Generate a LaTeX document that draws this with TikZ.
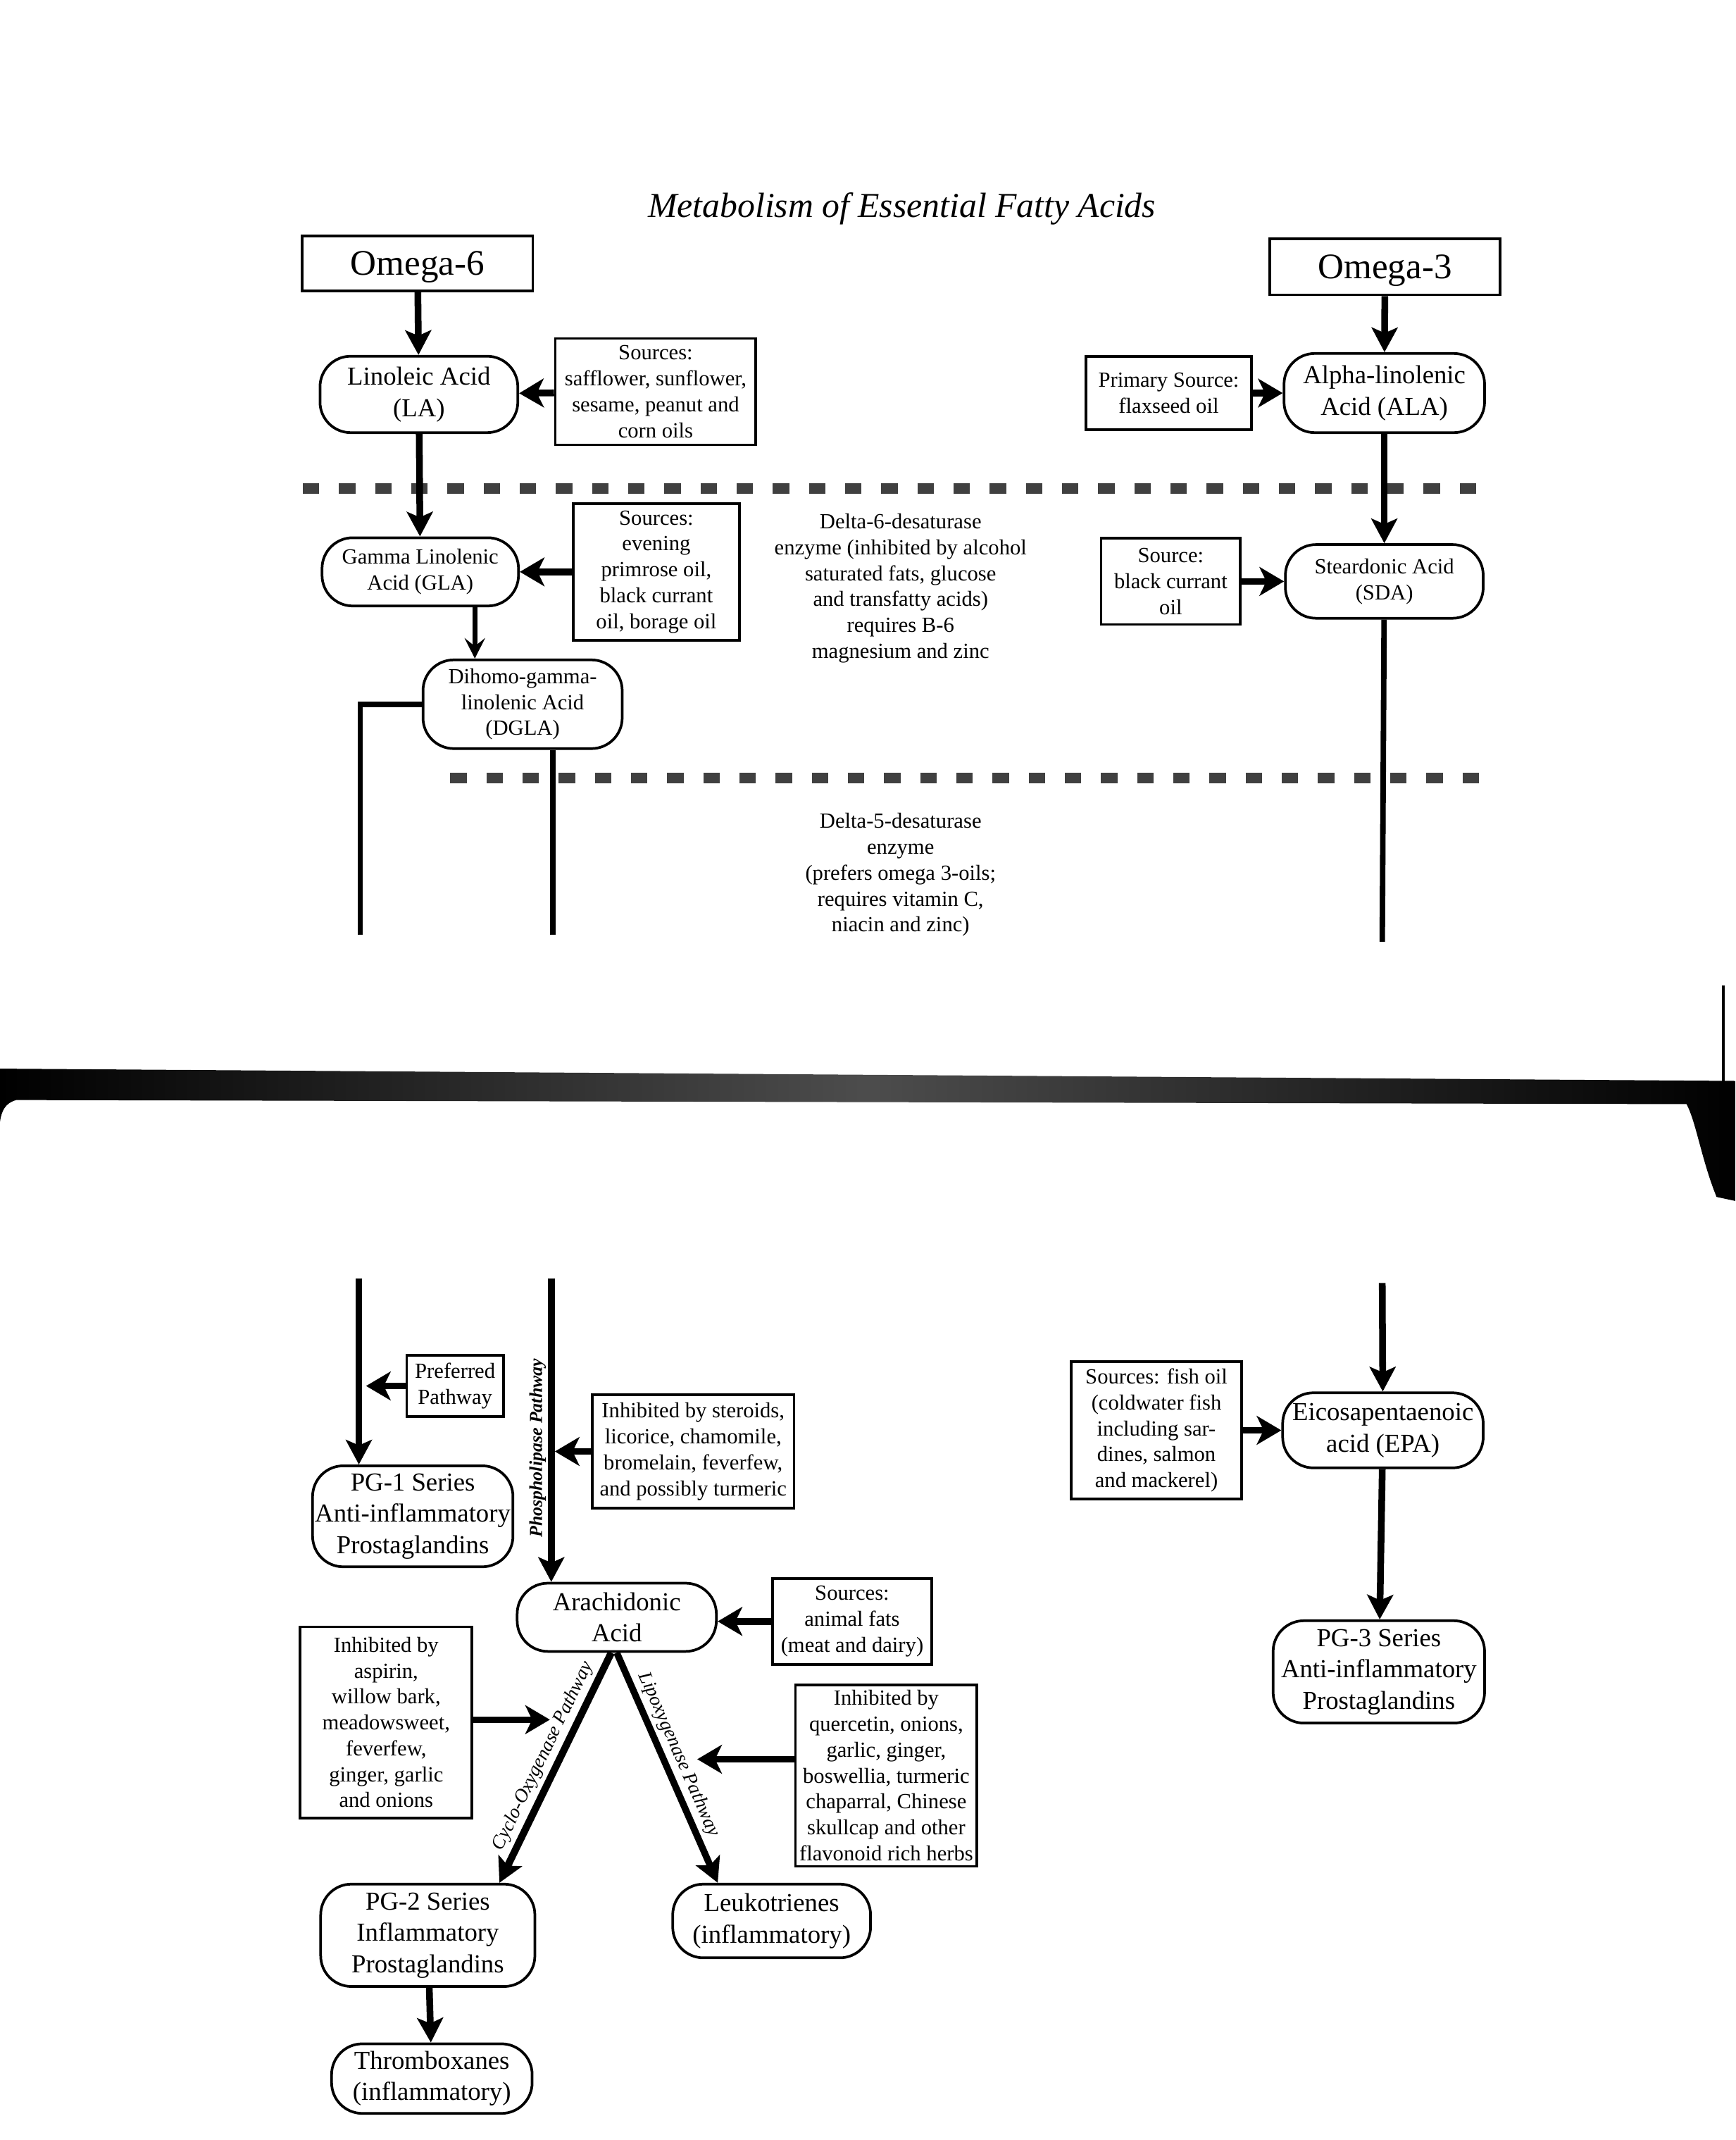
\documentclass[tikz,border=0pt]{standalone}
\usepackage{fontspec}
\setmainfont{Liberation Serif}
\usetikzlibrary{arrows.meta}

\newcommand{\srcfont}{\fontsize{9}{10.8}\selectfont}
\newcommand{\acidfont}{\fontsize{10.8}{13.1}\selectfont}
\newcommand{\omegafont}{\fontsize{15}{17}\selectfont}
\newcommand{\titlefont}{\fontsize{14.6}{17}\selectfont\itshape}

\tikzset{
  srcbox/.style={draw, line width=1.1pt, align=center, inner sep=1pt, font=\srcfont},
  acid/.style={draw, line width=1.1pt, rounded corners=0.45cm, align=center, inner sep=1pt, font=\acidfont},
  acidsmall/.style={acid, font=\srcfont},
  omegabox/.style={draw, line width=1.1pt, minimum width=3.38cm, text depth=0pt, font=\omegafont},
  flow/.style={line width=2.8pt, -{Stealth[length=0.36cm, width=0.38cm, inset=0.08cm]}},
  feed/.style={line width=2.8pt, -{Stealth[length=0.36cm, width=0.42cm, inset=0.1cm]}},
  thinflow/.style={line width=2pt, -{Stealth[length=0.3cm, width=0.3cm, inset=0.12cm]}},
  stem/.style={line width=2.3pt},
  enzline/.style={line width=4.5pt, black!75, dash pattern=on 0.24cm off 0.29cm},
  pathlabel/.style={font=\fontsize{8}{9}\selectfont\itshape, inner sep=1.5pt}
}

\begin{document}
\begin{tikzpicture}[x=0.02cm, y=-0.02cm]
    \useasboundingbox (0,0) rectangle (1272,1568);

    \node[font=\titlefont] (title) at (661,153) {Metabolism of Essential Fatty Acids};

    % upper page
    \node[omegabox, minimum height=0.8cm] (omegasix) at (306,193) {Omega-6};
    \node[omegabox, minimum height=0.82cm] (omegathree) at (1015,195.5) {Omega-3};

    \node[acid, minimum width=2.9cm, minimum height=1.12cm] (la) at (307,289) {Linoleic Acid\\(LA)};
    \node[srcbox, minimum width=2.94cm, minimum height=1.56cm] (srcla) at (480.5,287) {Sources:\\safflower, sunflower,\\sesame, peanut and\\corn oils};
    \node[acid, minimum width=2.94cm, minimum height=1.16cm] (ala) at (1014.5,288) {Alpha-linolenic\\Acid (ALA)};
    \node[srcbox, minimum width=2.42cm, minimum height=1.08cm] (srcala) at (856.5,288) {Primary Source:\\flaxseed oil};

    \draw[flow] (omegasix) -- (la);
    \draw[flow] (omegathree) -- (ala);
    \draw[feed] (srcla) -- (la);
    \draw[feed] (srcala) -- (ala);

    \draw[enzline] (222,358) -- (1085,358);

    \node[acidsmall, minimum width=2.88cm, minimum height=1cm] (gla) at (308,419) {Gamma Linolenic\\Acid (GLA)};
    \node[srcbox, minimum width=2.44cm, minimum height=2cm] (srcgla) at (481,419) {Sources:\\evening\\primrose oil,\\black currant\\oil, borage oil};
    \node[acidsmall, minimum width=2.9cm, minimum height=1.08cm] (sda) at (1014.5,426) {Steardonic Acid\\(SDA)};
    \node[srcbox, minimum width=2.04cm, minimum height=1.26cm] (srcsda) at (858,426) {Source:\\black currant\\oil};
    \node[align=center, font=\srcfont] (deltasix) at (660,431) {Delta-6-desaturase\\enzyme (inhibited by alcohol\\saturated fats, glucose\\and transfatty acids)\\requires B-6\\magnesium and zinc};

    \draw[flow] (la) -- (gla);
    \draw[flow] (ala) -- (sda);
    \draw[feed] (srcgla) -- (gla);
    \draw[feed] (srcsda) -- (sda);

    \node[acidsmall, minimum width=2.92cm, minimum height=1.3cm] (dgla) at (383,516) {Dihomo-gamma-\\linolenic Acid\\(DGLA)};
    \draw[thinflow] ([xshift=0.8cm]gla.south) -- ([xshift=0.8cm]gla.south |- dgla.north);

    \draw[enzline] (330,570) -- (1085,570);

    \node[align=center, font=\srcfont] (deltafive) at (660,641) {Delta-5-desaturase\\enzyme\\(prefers omega 3-oils;\\requires vitamin C,\\niacin and zinc)};

    \coordinate (dglaleft) at (264,685);
    \coordinate (dglaright) at (405,685);
    \coordinate (sdaend) at (1013,690);
    \draw[stem] (dgla.west) -| (dglaleft);
    \draw[stem] (dgla.south -| dglaright) -- (dglaright);
    \draw[stem] (sda) -- (sdaend);

    % page fold
    \draw[line width=1.2pt] (1263,722) -- (1263,792);
    \shade[left color=black, right color=black, middle color=black!70]
        (0,783) -- (1272,792) -- (1272,880) -- (1258,877)
        .. controls (1247,850) and (1243,822) .. (1236,809) -- (12,806)
        .. controls (4,808) and (1,814) .. (0,822) -- cycle;

    % lower page
    \coordinate (pgonetop) at (263,937);
    \coordinate (phostop) at (404,937);
    \coordinate (epatop) at (1013,940);

    \node[srcbox, minimum width=1.42cm, minimum height=0.9cm] (pref) at (333.5,1015.5) {Preferred\\Pathway};
    \node[srcbox, minimum width=2.96cm, minimum height=1.66cm] (steroid) at (508,1063.5) {Inhibited by steroids,\\licorice, chamomile,\\bromelain, feverfew,\\and possibly turmeric};
    \node[acid, minimum width=2.9cm, minimum height=1.48cm] (pgone) at (302.5,1111) {PG-1 Series\\Anti-inflammatory\\Prostaglandins};
    \node[acid, minimum width=2.92cm, minimum height=1cm] (aa) at (452,1185) {Arachidonic\\Acid};
    \node[srcbox, minimum width=2.34cm, minimum height=1.26cm] (animal) at (624.5,1188) {Sources:\\animal fats\\(meat and dairy)};

    \draw[flow] (pgonetop) -- (pgonetop |- pgone.north);
    \draw[flow] (phostop) -- (phostop |- aa.north);
    \node[rotate=90, inner sep=1pt, font=\fontsize{7.6}{9}\selectfont\bfseries\itshape] (phoslabel) at (394,1061) {Phospholipase Pathway};
    \draw[feed, shorten >=3pt] (pref) -- (pref -| pgonetop);
    \draw[feed, shorten >=1.5pt] (steroid) -- (steroid -| phostop);
    \draw[feed] (animal) -- (animal -| aa.east);

    \node[acid, minimum width=2.94cm, minimum height=1.1cm] (epa) at (1013.5,1048) {Eicosapentaenoic\\acid (EPA)};
    \node[srcbox, minimum width=2.5cm, minimum height=2.02cm] (fish) at (847.5,1048) {Sources: fish oil\\(coldwater fish\\including sar-\\dines, salmon\\and mackerel)};
    \node[acid, minimum width=3.1cm, minimum height=1.5cm] (pgthree) at (1010.5,1225) {PG-3 Series\\Anti-inflammatory\\Prostaglandins};

    \draw[flow] (epatop) -- (epa);
    \draw[feed] (fish) -- (fish -| epa.west);
    \draw[flow] (epa) -- (pgthree);

    \node[srcbox, minimum width=2.52cm, minimum height=2.8cm] (aspirin) at (283,1262) {Inhibited by\\aspirin,\\willow bark,\\meadowsweet,\\feverfew,\\ginger, garlic\\and onions};
    \node[srcbox, minimum width=2.66cm, minimum height=2.66cm] (quercetin) at (649.5,1301) {Inhibited by\\quercetin, onions,\\garlic, ginger,\\boswellia, turmeric\\chaparral, Chinese\\skullcap and other\\flavonoid rich herbs};
    \node[acid, minimum width=3.14cm, minimum height=1.5cm] (pgtwo) at (313.5,1418) {PG-2 Series\\Inflammatory\\Prostaglandins};
    \node[acid, minimum width=2.9cm, minimum height=1.08cm] (leuko) at (565.5,1407.5) {Leukotrienes\\(inflammatory)};
    \node[acid, minimum width=2.94cm, minimum height=1.02cm] (thromb) at (316.5,1523) {Thromboxanes\\(inflammatory)};

    \draw[flow, line width=3pt] ([xshift=-0.08cm]aa.south) -- node[pathlabel, sloped, above, pos=0.48] {Cyclo-Oxygenase Pathway} ([xshift=1.05cm]pgtwo.north);
    \draw[flow] (aa.south) -- node[pathlabel, sloped, above, pos=0.47] {Lipoxygenase Pathway} ([xshift=-0.79cm]leuko.north);

    \coordinate (coxin) at (403,1260);
    \coordinate (loxin) at (511,1289);
    \draw[feed] (aspirin.east |- coxin) -- (coxin);
    \draw[feed] (quercetin.west |- loxin) -- (loxin);

    \draw[flow] (pgtwo) -- (thromb);
\end{tikzpicture}
\end{document}
